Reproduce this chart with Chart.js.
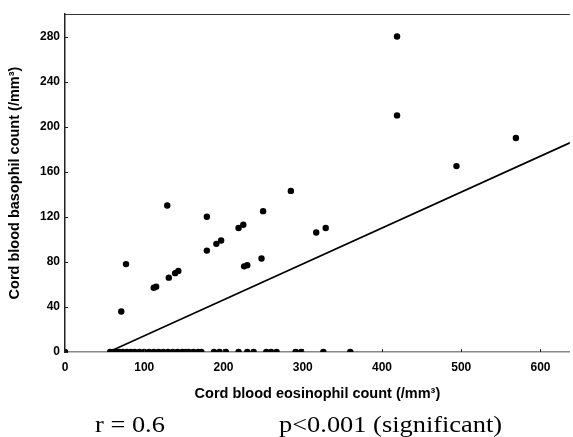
<!DOCTYPE html>
<html><head><meta charset="utf-8">
<script src="https://cdn.jsdelivr.net/npm/chart.js@4"></script>
<style>
html,body{margin:0;padding:0;background:#fff;}
#wrap{position:relative;width:573px;height:437px;overflow:hidden;}
#c{position:absolute;left:0;top:0;}
.stat{position:absolute;font-family:"Liberation Serif","Times New Roman",serif;font-size:24px;color:#000;top:411px;white-space:pre;transform-origin:0 0;transform:scaleX(1.1);}
</style></head>
<body>
<div id="wrap">
<canvas id="c" width="573" height="437"></canvas>
<div class="stat" id="r" style="left:95px">r = 0.6</div>
<div class="stat" id="p" style="left:279px">p&lt;0.001 (significant)</div>
</div>
<script>
// Cord blood eosinophil (x) vs basophil (y) counts, /mm3
const eosinophil = [
  71, 77, 112, 115, 129, 131, 139, 143, 179, 179, 191, 197, 219, 225, 226, 230,
  248, 250, 285, 317, 329, 419, 419, 494, 569,
  0, 57, 61, 65, 69, 73, 78, 83, 88, 94, 100, 106, 112, 118, 124, 130, 136, 142,
  148, 152, 156, 162, 168, 172, 188, 195, 203, 219, 230, 238, 254, 260, 267, 291,
  298, 326, 360
];
const basophil = [
  36, 78, 57, 58, 130, 66, 70, 72, 120, 90, 96, 99, 110, 113, 76, 77,
  83, 125, 143, 106, 110, 280, 210, 165, 190,
  0, 0, 0, 0, 0, 0, 0, 0, 0, 0, 0, 0, 0, 0, 0, 0, 0, 0,
  0, 0, 0, 0, 0, 0, 0, 0, 0, 0, 0, 0, 0, 0, 0, 0,
  0, 0, 0
];
const fitX = [55, 640];
const fitY = [0, 186.6];
const xTicks = [0, 100, 200, 300, 400, 500, 600];
const yTicks = [0, 40, 80, 120, 160, 200, 240, 280];
const xTitle = 'Cord blood eosinophil count (/mm\u00B3)';
const yTitle = 'Cord blood basophil count (/mm\u00B3)';

const points = eosinophil.map((x, i) => ({x: x, y: basophil[i]}));
const fit = fitX.map((x, i) => ({x: x, y: fitY[i]}));

const tickFont = {family: '"Liberation Sans", Arial, sans-serif', size: 12, weight: 'bold'};
const titleFont = {family: '"Liberation Sans", Arial, sans-serif', size: 14.5, weight: 'bold'};

const framePlugin = {
  id: 'frame',
  afterDatasetsDraw(chart) {
    const {ctx, chartArea: a, scales} = chart;
    ctx.save();
    ctx.strokeStyle = '#333';
    ctx.lineWidth = 1;
    ctx.beginPath();
    ctx.moveTo(a.left, a.top + 0.5);
    ctx.lineTo(a.right, a.top + 0.5);
    ctx.stroke();
    ctx.strokeStyle = '#222';
    ctx.beginPath();
    yTicks.forEach(v => {
      const py = Math.round(scales.y.getPixelForValue(v)) + 0.5;
      ctx.moveTo(a.left, py); ctx.lineTo(a.left + 3, py);
    });
    xTicks.forEach(v => {
      const px = Math.round(scales.x.getPixelForValue(v)) + 0.5;
      ctx.moveTo(px, a.bottom); ctx.lineTo(px, a.bottom - 3);
    });
    ctx.stroke();
    ctx.restore();
  }
};

new Chart(document.getElementById('c'), {
  type: 'scatter',
  data: {
    datasets: [
      {
        type: 'line', data: fit, borderColor: '#000', borderWidth: 1.6,
        pointRadius: 0, fill: false, tension: 0
      },
      {
        data: points, backgroundColor: '#000', borderColor: '#000',
        pointRadius: 3.2, pointHoverRadius: 3.2, borderWidth: 0, clip: 0
      }
    ]
  },
  options: {
    responsive: false, animation: false, devicePixelRatio: 1,
    layout: {padding: {left: 0, top: 14, right: 0, bottom: 34}},
    plugins: {legend: {display: false}, tooltip: {enabled: false}},
    scales: {
      x: {
        type: 'linear', min: 0, max: 637,
        afterBuildTicks: s => { s.ticks = xTicks.map(v => ({value: v})); },
        afterFit: s => { s.height = 51; },
        grid: {display: false, drawTicks: false},
        border: {display: true, color: '#888', width: 1.5},
        ticks: {color: '#000', font: tickFont, padding: 8, maxRotation: 0},
        title: {display: true, text: xTitle, color: '#000', font: titleFont, padding: {top: 8, bottom: 0}}
      },
      y: {
        type: 'linear', min: 0, max: 300,
        afterBuildTicks: s => { s.ticks = yTicks.map(v => ({value: v})); },
        afterFit: s => { s.width = 65; },
        grid: {display: false, drawTicks: false},
        border: {display: true, color: '#222', width: 1.5},
        ticks: {color: '#000', font: tickFont, padding: 5},
        title: {display: true, text: yTitle, color: '#000', font: titleFont, padding: {top: 6, bottom: 4}, align: 'center'}
      }
    }
  },
  plugins: [framePlugin]
});
</script>
</body></html>
